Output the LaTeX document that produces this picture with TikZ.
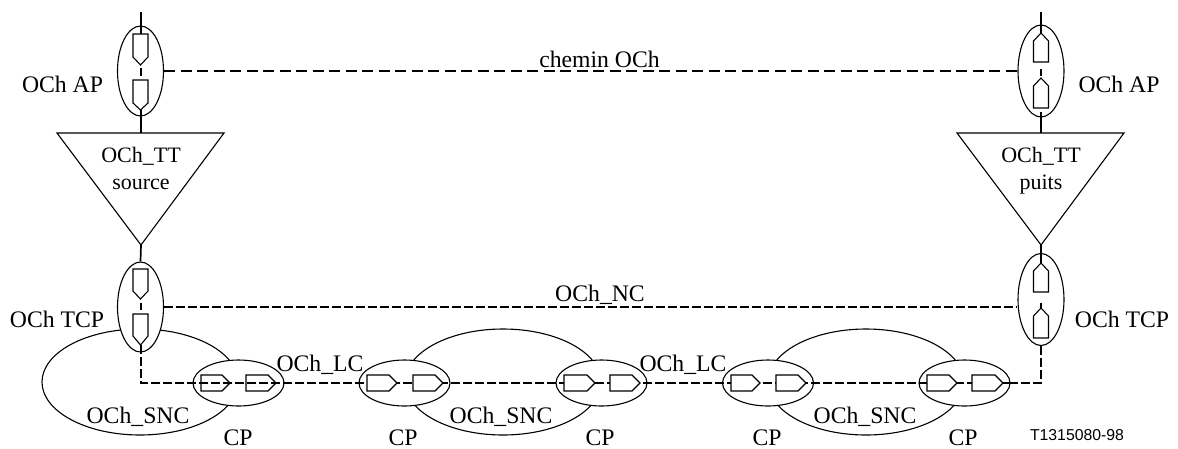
\documentclass[tikz,border=0pt]{standalone}
\usepackage{fontspec}
\setmainfont{Liberation Serif}
\newfontfamily\arialf{Liberation Sans}
\usetikzlibrary{shapes.geometric}
\tikzset{
  x=1pt,y=-1pt,
  thin line/.style={line width=1.1pt,black},
  port/.style={draw,thin line,ellipse,inner sep=0,fill=white,minimum width=#1},
  vport/.style={port=46pt,minimum height=90pt},
  cport/.style={port=91pt,minimum height=46pt},
  snc/.style={draw,thin line,ellipse,inner sep=0,minimum width=196pt,minimum height=106pt},
  tri/.style={thin line,line join=miter},
  pent/.style={thin line,fill=white},
  solidlink/.style={line width=1.7pt,black},
  longdash/.style={line width=1.6pt,black,dash pattern=on 11pt off 5.5pt},
  shortdash/.style={line width=1.6pt,black,dash pattern=on 8.5pt off 3.5pt},
  lab/.style={inner sep=0,anchor=base,font=\fontsize{23.7}{24}\selectfont},
  sublab/.style={inner sep=0,anchor=base,font=\fontsize{22}{24}\selectfont},
  reflab/.style={inner sep=0,anchor=base,font=\arialf\fontsize{15.8}{17}\selectfont},
}
\newcommand{\pentvert}[4]{\draw[pent] (#1-7.5,#2) -- (#1+7.5,#2) -- (#1+7.5,#3) -- (#1,#4) -- (#1-7.5,#3) -- cycle;}
\newcommand{\pentright}[2]{\draw[pent] (#1,375) -- (#2-8,375) -- (#2,383) -- (#2-8,391) -- (#1,391) -- cycle;}
\begin{document}
\begin{tikzpicture}
\useasboundingbox (0,0) rectangle (1178,448);
% SNC loops
\node[snc] (sncA) at (140,382) {};
\node[snc] (sncB) at (503,382) {};
\node[snc] (sncC) at (866,382) {};
% ports
\node[vport] (apL) at (140.5,71) {};
\node[vport] (tcpL) at (140.5,307) {};
\node[vport,minimum height=92pt] (apR) at (1041,71) {};
\node[vport,minimum height=92pt] (tcpR) at (1041,299.5) {};
\node[cport] (cpA) at (238.5,383) {};
\node[cport] (cpB) at (404.5,383) {};
\node[cport] (cpC) at (601.5,383) {};
\node[cport] (cpD) at (768,383) {};
\node[cport] (cpE) at (964.5,383) {};
% triangles
\coordinate (triLa) at (57,133); \coordinate (triLb) at (224,133); \coordinate (triLc) at (141,245);
\coordinate (triRa) at (957,133); \coordinate (triRb) at (1124,133); \coordinate (triRc) at (1041,245);
\draw[tri] (triLa) -- (triLb) -- (triLc) -- cycle;
\draw[tri] (triRa) -- (triRb) -- (triRc) -- cycle;
% free ends
\coordinate (topL) at (141,12); \coordinate (topR) at (1041,12);
\coordinate (triLtop) at (141,133); \coordinate (triRtop) at (1041,133);
\coordinate (apLin) at (141,34); \coordinate (apLout) at (141,110);
\coordinate (apLgapA) at (141,68); \coordinate (apLgapB) at (141,76);
\coordinate (apRin) at (1041,33); \coordinate (apRout) at (1041,112);
\coordinate (apRgapA) at (1041,69); \coordinate (apRgapB) at (1041,76);
\coordinate (tcpLgapA) at (141,303); \coordinate (tcpLgapB) at (141,310);
\coordinate (tcpRin) at (1041,263);
\coordinate (tcpRgapA) at (1041,303); \coordinate (tcpRgapB) at (1041,308);
\coordinate (tcpLin) at (141,345);
% dashed connectors
\draw[longdash] (apL.east) -- (apR.west);
\draw[shortdash] (tcpL.east) -- (tcpL.east -| tcpR.west);
\draw[shortdash] (tcpLin) |- (cpE.east);
\draw[shortdash] (tcpR.south) |- (cpE.east);
% solid connectors
\draw[solidlink] (topL) -- (apLin);
\draw[solidlink] (apLout) -- (triLtop);
\draw[solidlink] (triLc) -- (tcpL.north);
\draw[solidlink] (topR) -- (apRin);
\draw[solidlink] (apRout) -- (triRtop);
\draw[solidlink] (triRc) -- (tcpRin);
\draw[solidlink] (apLgapA) -- (apLgapB);
\draw[solidlink] (apRgapA) -- (apRgapB);
\draw[solidlink] (tcpLgapA) -- (tcpLgapB);
\draw[solidlink] (tcpRgapA) -- (tcpRgapB);
% pentagons
\pentvert{140.5}{34}{57}{65}
\pentvert{140.5}{80}{103}{110}
\pentvert{140.5}{269}{291}{299}
\pentvert{140.5}{314}{336}{345}
\pentvert{1041}{62}{41}{33}
\pentvert{1041}{108}{86}{78}
\pentvert{1041}{292}{271}{263}
\pentvert{1041}{338}{316}{308}
\pentright{367}{397}\pentright{413}{443}
\pentright{564}{595}\pentright{610}{640}
\pentright{731}{760}\pentright{776}{806}
\pentright{927}{957}\pentright{972}{1003}
\draw[thin line] (201,375) -- (222,375) -- (230,383) -- (222,391) -- (201,391) -- cycle;
\draw[thin line] (246,375) -- (268,375) -- (276,383) -- (268,391) -- (246,391) -- cycle;
% labels
\node[lab] (l1) at (599.5,67) {chemin OCh};
\node[lab] (l2) at (600,301) {OCh\_NC};
\node[lab] (l3) at (62.5,92) {OCh AP};
\node[lab] (l4) at (1119,92) {OCh AP};
\node[lab] (l5) at (57,327) {OCh TCP};
\node[lab] (l6) at (1122,327) {OCh TCP};
\node[sublab] (l7) at (141,162) {OCh\_TT};
\node[sublab] (l8) at (141,189) {source};
\node[sublab] (l9) at (1041,162) {OCh\_TT};
\node[sublab] (l10) at (1041,189) {puits};
\node[lab] (l11) at (320,371) {OCh\_LC};
\node[lab] (l12) at (683,371) {OCh\_LC};
\node[lab] (l13) at (138,423) {OCh\_SNC};
\node[lab] (l14) at (501,423) {OCh\_SNC};
\node[lab] (l15) at (865,423) {OCh\_SNC};
\node[lab] (l16) at (238,445) {CP};
\node[lab] (l17) at (403,445) {CP};
\node[lab] (l18) at (600,445) {CP};
\node[lab] (l19) at (767,445) {CP};
\node[lab] (l20) at (963,445) {CP};
\node[reflab] (l21) at (1077,440) {T1315080-98};
\end{tikzpicture}
\end{document}
